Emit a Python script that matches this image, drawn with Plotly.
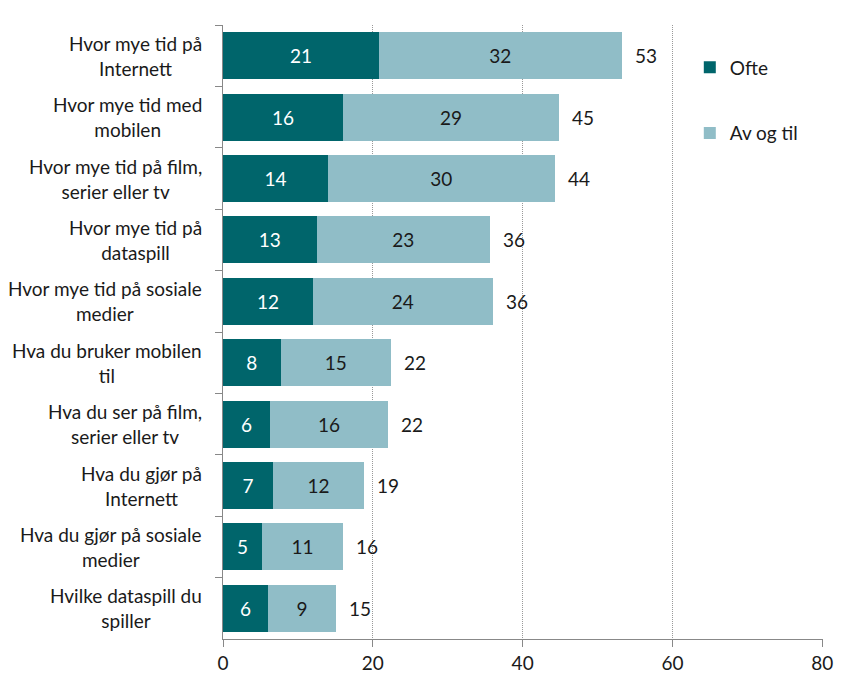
import plotly.graph_objects as go

categories = [
    "Hvor mye tid på<br>Internett",
    "Hvor mye tid med<br>mobilen",
    "Hvor mye tid på film,<br>serier eller tv",
    "Hvor mye tid på<br>dataspill",
    "Hvor mye tid på sosiale<br>medier",
    "Hva du bruker mobilen<br>til",
    "Hva du ser på film,<br>serier eller tv",
    "Hva du gjør på<br>Internett",
    "Hva du gjør på sosiale<br>medier",
    "Hvilke dataspill du<br>spiller",
]
ofte = [20.8, 16.0, 14.0, 12.5, 12.0, 7.7, 6.3, 6.7, 5.2, 6.0]
av_og_til = [32.4, 28.9, 30.3, 23.1, 24.0, 14.7, 15.7, 12.1, 10.8, 9.1]
ofte_labels = [21, 16, 14, 13, 12, 8, 6, 7, 5, 6]
av_labels = [32, 29, 30, 23, 24, 15, 16, 12, 11, 9]
total_labels = [53, 45, 44, 36, 36, 22, 22, 19, 16, 15]
x_ticks = [0, 20, 40, 60, 80]

FONT = "Lato"
FS = 19
DARK = "#00656B"
LIGHT = "#90BDC7"
TXT = "#1a1a1a"

fig = go.Figure()
fig.add_trace(go.Bar(
    y=categories, x=ofte, orientation="h", name="Ofte",
    marker=dict(color=DARK, line=dict(width=0)),
    text=[str(v) for v in ofte_labels], textposition="inside",
    insidetextanchor="middle", textangle=0,
    textfont=dict(color="white", size=FS, family=FONT),
    legendgroup="a",
))
fig.add_trace(go.Bar(
    y=categories, x=av_og_til, orientation="h", name="Av og til",
    marker=dict(color=LIGHT, line=dict(width=0)),
    text=[str(v) for v in av_labels], textposition="inside",
    insidetextanchor="middle", textangle=0,
    textfont=dict(color=TXT, size=FS, family=FONT),
    legendgroup="b",
))

totals = [a + b for a, b in zip(ofte, av_og_til)]
for cat, t, lab in zip(categories, totals, total_labels):
    fig.add_annotation(x=t, y=cat, text=str(lab), showarrow=False,
                       xanchor="left", xshift=11,
                       font=dict(size=FS, family=FONT, color=TXT))

# category labels, centred multi-line like the original
for cat in categories:
    fig.add_annotation(x=0, xref="paper", y=cat, yref="y", text=cat,
                       showarrow=False, xanchor="right", xshift=-19,
                       align="center",
                       font=dict(size=FS, family=FONT, color=TXT))

fig.update_layout(
    width=844, height=690,
    margin=dict(l=215, r=29, t=17, b=59),
    barmode="stack", bargap=0.235,
    plot_bgcolor="white", paper_bgcolor="white",
    font=dict(family=FONT, size=FS, color=TXT),
    showlegend=True,
    legend=dict(x=0.778, y=0.962, xanchor="left", yanchor="top",
                bgcolor="rgba(0,0,0,0)", tracegroupgap=38,
                font=dict(size=FS, family=FONT), itemwidth=30),
    xaxis=dict(range=[0, 80.1], tickvals=x_ticks, showgrid=True,
               gridcolor="#999999", griddash="1px,1px", gridwidth=1,
               showline=True, linecolor="#888888", linewidth=1,
               ticks="outside", ticklen=7, tickcolor="#888888",
               zeroline=False, tickfont=dict(size=FS, family=FONT)),
    yaxis=dict(autorange="reversed", showline=True, linecolor="#888888",
               linewidth=1, ticks="outside", tickson="boundaries",
               ticklen=7, tickcolor="#888888", showgrid=False,
               showticklabels=False),
)

fig.write_html("out.html")
